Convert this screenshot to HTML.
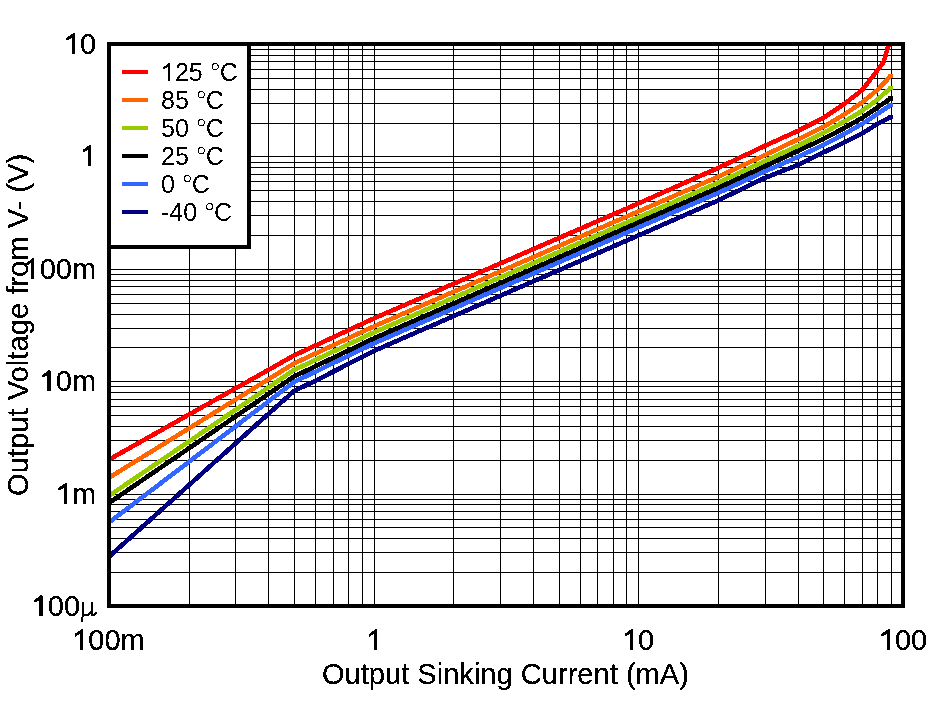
<!DOCTYPE html>
<html><head><meta charset="utf-8"><style>
html,body{margin:0;padding:0;background:#fff;width:931px;height:701px;overflow:hidden}
svg{display:block}
text{font-family:"Liberation Sans",sans-serif;fill:#000}
</style></head><body>
<svg width="931" height="701" viewBox="0 0 931 701">
<rect width="931" height="701" fill="#fff"/>
<path d="M189.5 46V604M235.5 46V604M268.5 46V604M294.5 46V604M315.5 46V604M333.5 46V604M348.5 46V604M362.5 46V604M374.5 46V604M453.5 46V604M500.5 46V604M533.5 46V604M559.5 46V604M580.5 46V604M597.5 46V604M613.5 46V604M626.5 46V604M638.5 46V604M718.5 46V604M765.5 46V604M798.5 46V604M823.5 46V604M844.5 46V604M862.5 46V604M877.5 46V604M891.5 46V604M111 572.5H901M111 552.5H901M111 538.5H901M111 527.5H901M111 519.5H901M111 511.5H901M111 504.5H901M111 499.5H901M111 494.5H901M111 460.5H901M111 440.5H901M111 426.5H901M111 415.5H901M111 406.5H901M111 399.5H901M111 392.5H901M111 386.5H901M111 381.5H901M111 347.5H901M111 328.5H901M111 314.5H901M111 303.5H901M111 294.5H901M111 286.5H901M111 280.5H901M111 274.5H901M111 269.5H901M111 235.5H901M111 215.5H901M111 201.5H901M111 190.5H901M111 181.5H901M111 174.5H901M111 167.5H901M111 162.5H901M111 156.5H901M111 123.5H901M111 103.5H901M111 89.5H901M111 78.5H901M111 69.5H901M111 61.5H901M111 55.5H901M111 49.5H901" stroke="#000" stroke-width="1" fill="none" shape-rendering="crispEdges"/>
<clipPath id="c"><rect x="111" y="46" width="790" height="558"/></clipPath>
<g clip-path="url(#c)" fill="none" stroke-width="4.6" stroke-linejoin="round" stroke-linecap="butt" shape-rendering="crispEdges">
<path d="M109.0 459.6 L294.0 355.5 L373.7 318.5 L638.3 203.5 L718.0 168.0 L764.6 146.0 L797.7 131.0 L823.3 118.0 L844.3 104.0 L862.0 90.2 L877.4 70.5 L883.6 62.0 L888.3 46.0 L888.8 42.0" stroke="#ff0000"/>
<path d="M109.0 477.7 L294.0 363.5 L373.7 326.5 L638.3 211.5 L718.0 176.8 L764.6 155.3 L797.7 139.5 L823.3 127.0 L844.3 114.5 L862.0 102.5 L877.4 90.0 L890.6 76.0" stroke="#ff6600"/>
<rect x="888.4" y="73.8" width="4.4" height="4.4" fill="#ff6600" stroke="none"/>
<path d="M109.0 495.8 L294.0 370.0 L373.7 332.5 L638.3 217.5 L718.0 182.8 L764.6 161.3 L797.7 146.0 L823.3 133.0 L844.3 121.5 L862.0 111.0 L877.4 99.5 L890.6 88.0" stroke="#99cc00"/>
<rect x="888.4" y="85.8" width="4.4" height="4.4" fill="#99cc00" stroke="none"/>
<path d="M109.0 502.9 L294.0 376.5 L373.7 338.5 L638.3 222.5 L718.0 188.0 L764.6 166.5 L797.7 151.0 L823.3 139.0 L844.3 128.0 L862.0 118.0 L877.4 107.5 L890.6 98.5" stroke="#000000"/>
<rect x="888.4" y="96.3" width="4.4" height="4.4" fill="#000000" stroke="none"/>
<path d="M109.0 522.5 L294.0 382.0 L373.7 343.5 L638.3 227.5 L718.0 193.0 L764.6 171.5 L797.7 157.0 L823.3 145.0 L844.3 134.0 L862.0 124.0 L877.4 114.0 L890.6 105.0" stroke="#3366ff"/>
<rect x="888.4" y="102.8" width="4.4" height="4.4" fill="#3366ff" stroke="none"/>
<path d="M109.0 556.7 L294.0 391.0 L315.0 381.0 L373.7 351.0 L638.3 235.5 L718.0 200.5 L764.6 178.0 L797.7 165.0 L823.3 152.5 L844.3 142.5 L862.0 133.5 L877.4 124.0 L890.6 117.0" stroke="#000080"/>
<rect x="888.4" y="114.8" width="4.4" height="4.4" fill="#000080" stroke="none"/>
</g>
<rect x="111" y="46" width="138" height="201" fill="#fff"/>
<path d="M109 44H249V247H111" fill="none" stroke="#000" stroke-width="4"/>
<rect x="109" y="44" width="794" height="562" fill="none" stroke="#000" stroke-width="4"/>
<filter id="th" x="0" y="0" width="931" height="701" filterUnits="userSpaceOnUse"><feComponentTransfer><feFuncA type="discrete" tableValues="0 1 1"/></feComponentTransfer></filter>
<filter id="th2" x="0" y="0" width="931" height="701" filterUnits="userSpaceOnUse"><feComponentTransfer><feFuncA type="discrete" tableValues="0 1"/></feComponentTransfer></filter>
<g filter="url(#th2)">
<rect x="122" y="70" width="26" height="4" fill="#ff0000"/>
<text x="161.00" y="81" font-size="25"> 25 <tspan x="219.65">C</tspan></text>
<path d="M170.22 81.00 L170.22 63.07 L169.02 63.07 L163.41 67.21 L163.41 69.62 L167.81 66.95 L167.81 81.00Z"/>
<circle cx="215.15" cy="66.62" r="3.10" fill="none" stroke="#000" stroke-width="1.05"/>
<rect x="122" y="98" width="26" height="4" fill="#ff6600"/>
<text x="161.00" y="109" font-size="25">85 <tspan x="205.75">C</tspan></text>
<circle cx="201.25" cy="94.62" r="3.10" fill="none" stroke="#000" stroke-width="1.05"/>
<rect x="122" y="126" width="26" height="4" fill="#99cc00"/>
<text x="161.00" y="137" font-size="25">50 <tspan x="205.75">C</tspan></text>
<circle cx="201.25" cy="122.62" r="3.10" fill="none" stroke="#000" stroke-width="1.05"/>
<rect x="122" y="154" width="26" height="4" fill="#000000"/>
<text x="161.00" y="165" font-size="25">25 <tspan x="205.75">C</tspan></text>
<circle cx="201.25" cy="150.62" r="3.10" fill="none" stroke="#000" stroke-width="1.05"/>
<rect x="122" y="182" width="26" height="4" fill="#3366ff"/>
<text x="161.00" y="193" font-size="25">0 <tspan x="191.85">C</tspan></text>
<circle cx="187.34" cy="178.62" r="3.10" fill="none" stroke="#000" stroke-width="1.05"/>
<rect x="122" y="210" width="26" height="4" fill="#000080"/>
<text x="161.00" y="221" font-size="25">-40 <tspan x="214.08">C</tspan></text>
<circle cx="209.57" cy="206.62" r="3.10" fill="none" stroke="#000" stroke-width="1.05"/>
</g>
<g filter="url(#th)">
<text x="63.84" y="54" font-size="29"> 0</text>
<path d="M74.54 54.00 L74.54 33.20 L73.14 33.20 L66.64 38.00 L66.64 40.80 L71.74 37.70 L71.74 54.00Z"/>
<text x="79.97" y="166" font-size="29"> </text>
<path d="M90.67 166.00 L90.67 145.20 L89.27 145.20 L82.77 150.00 L82.77 152.80 L87.87 149.70 L87.87 166.00Z"/>
<text x="23.56" y="279" font-size="29"> 00m</text>
<path d="M34.26 279.00 L34.26 258.20 L32.86 258.20 L26.36 263.00 L26.36 265.80 L31.46 262.70 L31.46 279.00Z"/>
<text x="39.69" y="391" font-size="29"> 0m</text>
<path d="M50.39 391.00 L50.39 370.20 L48.99 370.20 L42.49 375.00 L42.49 377.80 L47.59 374.70 L47.59 391.00Z"/>
<text x="55.81" y="504" font-size="29"> m</text>
<path d="M66.51 504.00 L66.51 483.20 L65.11 483.20 L58.61 488.00 L58.61 490.80 L63.71 487.70 L63.71 504.00Z"/>
<text x="31.71" y="616" font-size="29"> 00</text>
<path d="M42.41 616.00 L42.41 595.20 L41.01 595.20 L34.51 600.00 L34.51 602.80 L39.61 599.70 L39.61 616.00Z"/>
<path d="M82.0 602H84.0V615.5H82.0ZM81.3 617H83.0V622H81.3ZM82.3 615.5L81.5 617.5L83.0 617.5L83.7 615.5ZM91.3 602H93.1V615.6H91.3Z"/>
<path d="M83.7 614.6Q86.6 615.6 88.6 614.6L91.3 612" fill="none" stroke="#000" stroke-width="2"/>
<path d="M92.6 614.8Q95.1 615.2 96.2 612.3" fill="none" stroke="#000" stroke-width="1.8"/>
<text x="72.23" y="650" font-size="29"> 00m</text>
<path d="M82.93 650.00 L82.93 629.20 L81.53 629.20 L75.03 634.00 L75.03 636.80 L80.13 633.70 L80.13 650.00Z"/>
<text x="366.24" y="650" font-size="29"> </text>
<path d="M376.94 650.00 L376.94 629.20 L375.54 629.20 L369.04 634.00 L369.04 636.80 L374.14 633.70 L374.14 650.00Z"/>
<text x="621.97" y="650" font-size="29"> 0</text>
<path d="M632.67 650.00 L632.67 629.20 L631.27 629.20 L624.77 634.00 L624.77 636.80 L629.87 633.70 L629.87 650.00Z"/>
<text x="878.81" y="650" font-size="29"> 00</text>
<path d="M889.51 650.00 L889.51 629.20 L888.11 629.20 L881.61 634.00 L881.61 636.80 L886.71 633.70 L886.71 650.00Z"/>
<g font-size="29">
<text x="505.4" y="684" font-size="29.1" text-anchor="middle">Output Sinking Current (mA)</text>
<text font-size="29.2" transform="translate(27.5 496) rotate(-90)">Output Voltage from V- (V)</text>
</g>
</g>
</svg>
</body></html>
